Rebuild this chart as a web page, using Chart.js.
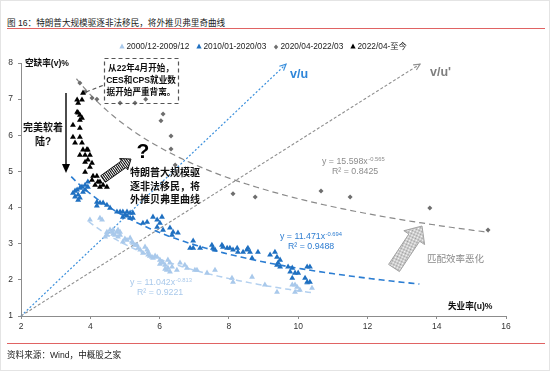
<!DOCTYPE html>
<html>
<head>
<meta charset="utf-8">
<script src="https://cdn.jsdelivr.net/npm/chart.js@4.4.0/dist/chart.umd.min.js"></script>
<style>
html, body { margin: 0; padding: 0; background: #fff; }
#wrap { position: relative; width: 548px; height: 369px; border: 1px solid #e4e4e4; overflow: hidden;
  font-family: "Liberation Sans", "Noto Sans CJK SC", sans-serif; }
#title { position: absolute; left: 6px; top: 15px; font-size: 8.6px; color: #222; white-space: nowrap; }
.rule { position: absolute; left: 6px; right: 4px; height: 0; border-top: 1px solid #e06363; }
#source { position: absolute; left: 6px; top: 347px; font-size: 8.6px; color: #222; white-space: nowrap; }
canvas { position: absolute; left: -1px; top: -1px; }
</style>
</head>
<body>
<div id="wrap">
  <div id="title">图 16：特朗普大规模驱逐非法移民，将外推贝弗里奇曲线</div>
  <div class="rule" style="top:27px"></div>
  <canvas id="beveridge" width="550" height="371"></canvas>
  <div class="rule" style="top:342px"></div>
  <div id="source">资料来源：Wind，中概股之家</div>
</div>
<script>
// series: [unemployment u, vacancy v]
const period0009 = [
  [3.99,3.66],[4.28,3.71],[4.34,3.66],[4.43,3.19],[4.48,3.24],[4.48,3.32],[4.57,3.38],[4.63,3.32],
  [4.66,3.38],[4.66,3.27],[4.71,3.24],[4.77,3.32],[4.80,3.38],[4.80,3.19],[4.86,3.32],[4.86,3.24],
  [4.94,3.05],[5.00,3.13],[5.06,3.10],[5.15,3.16],[5.20,3.05],[5.23,3.02],[5.29,2.96],[5.35,2.96],
  [5.38,2.88],[5.44,2.83],[5.52,2.74],[5.58,2.91],[5.64,2.83],[5.67,2.77],[5.67,2.69],[5.72,2.66],
  [5.78,2.63],[5.81,2.60],[5.87,2.66],[5.93,2.63],[6.01,2.55],[6.01,2.44],[6.07,2.49],[6.10,2.47],
  [6.16,2.41],[6.16,2.30],[6.21,2.27],[6.24,2.55],[6.24,2.33],[6.30,2.47],[6.30,2.22],[6.36,2.36],
  [6.50,2.27],[6.59,2.47],[6.73,2.41],[6.79,2.33],[7.02,2.27],[7.08,2.27],[7.37,2.19],[7.60,2.27],
  [8.09,2.05],[8.12,1.94],[8.67,2.08],[9.04,1.86],[9.39,1.66],[9.83,1.86],[9.91,1.86],[9.97,1.80],
  [10.05,1.72],[9.91,1.66],[10.26,1.91],[10.40,1.77]
];
const period1020 = [
  [3.50,4.40],[3.56,4.46],[3.56,4.30],[3.62,4.49],[3.65,4.21],[3.65,4.35],[3.70,4.54],[3.70,4.27],
  [3.76,4.57],[3.79,4.43],[3.85,4.62],[3.85,4.49],[3.93,4.71],[3.93,4.57],[4.19,4.15],[4.28,4.13],
  [4.37,4.13],[4.19,4.05],[4.48,4.07],[4.57,3.99],[4.77,3.88],[4.86,3.88],[4.94,3.88],[5.06,3.88],
  [5.15,3.85],[5.23,3.85],[4.94,3.74],[5.00,3.80],[5.15,3.71],[5.23,3.71],[5.06,3.77],[5.52,3.57],
  [5.64,3.60],[5.81,3.74],[5.93,3.66],[6.01,3.57],[5.93,3.46],[6.10,3.38],[6.30,3.44],[6.39,3.32],
  [6.36,3.24],[6.53,3.30],[6.07,3.74],[6.88,2.88],[6.97,2.88],[6.97,3.08],[7.17,2.88],[7.51,2.96],
  [7.54,2.88],[7.60,2.83],[7.80,2.96],[7.83,2.91],[7.95,2.88],[8.03,2.88],[8.12,2.83],[8.24,2.88],
  [8.26,2.77],[8.41,2.77],[8.52,2.83],[8.55,2.88],[8.61,2.77],[8.67,2.60],[8.84,2.77],[9.19,2.69],
  [9.33,2.77],[9.39,2.63],[9.48,2.55],[9.42,2.47],[9.39,2.41],[9.48,2.36],[9.71,2.36],[9.83,2.33],
  [9.77,2.22],[9.91,2.19],[10.00,2.19],[9.83,2.05],[10.26,2.36],[10.34,2.36],[10.20,2.05],[10.26,1.94],
  [10.34,1.94]
];
const period2022 = [
  [3.70,7.45],[3.85,7.20],[4.05,7.03],[4.19,7.00],[4.86,6.89],[5.29,6.89],[5.60,7.00],[6.10,6.59],
  [6.04,6.40],[6.33,5.98],[6.33,5.62],[6.45,5.18],[8.12,4.38],[8.76,4.29],[10.66,4.46],[11.50,4.29],
  [13.80,3.99],[15.48,3.38]
];
const periodNow = [
  [3.79,7.17],[3.62,6.98],[3.65,6.89],[3.76,6.98],[3.62,6.64],[3.65,6.62],[3.70,6.56],[3.70,6.42],
  [3.76,6.48],[3.50,6.28],[3.70,6.20],[3.50,5.95],[3.70,5.95],[3.56,5.79],[3.76,5.79],[3.79,5.60],
  [3.90,5.60],[3.93,5.60],[3.70,5.45],[3.85,5.45],[3.99,5.45],[3.85,5.26],[3.93,5.32],[4.05,5.23],
  [3.99,5.12],[3.85,4.98],[4.08,4.87],[4.19,4.87],[4.05,4.76],[4.22,4.71],[4.14,4.62],[4.28,4.71],
  [4.37,4.62],[4.48,4.57],[4.28,4.57]
];
const seriesLabels = ['2000/12-2009/12', '2010/01-2020/03', '2020/04-2022/03', '2022/04-至今'];

// power trendlines y = a * x^b, as printed on the chart
const trendCoef = [[11.042, -0.813], [11.471, -0.694], [15.598, -0.565]];
const trendSpan = [[3.95, 10.45], [3.45, 13.5], [3.6, 15.5]];
const trendR2 = ['0.9221', '0.9488', '0.8425'];

const xMin = 2, xMax = 16, xStep = 2;
const yMin = 1, yMax = 8, yStep = 1;

const FONT = '"Liberation Sans", "Noto Sans CJK SC", sans-serif';
const colLight = '#a9c9eb';
const colDark = '#1f70c1';
const colGray = '#6e6e6e';
const colBlack = '#000000';

const ctx = document.getElementById('beveridge').getContext('2d');

function toXY(arr) { return arr.map(p => ({ x: p[0], y: p[1] })); }

function hatch(color, gap, vertical) {
  const c = document.createElement('canvas');
  c.width = gap; c.height = gap;
  const g = c.getContext('2d');
  g.strokeStyle = color; g.lineWidth = 1;
  g.beginPath();
  if (vertical) { g.moveTo(0.5, 0); g.lineTo(0.5, gap); }
  else { g.moveTo(-1, gap + 1); g.lineTo(gap + 1, -1); g.moveTo(-1, 1); g.lineTo(1, -1); g.moveTo(gap - 1, gap + 1); g.lineTo(gap + 1, gap - 1); }
  g.stroke();
  return ctx.createPattern(c, 'repeat');
}

function blockArrow(g, x0, y0, x1, y1, sw, hw, hl, fill, stroke) {
  const a = Math.atan2(y1 - y0, x1 - x0), len = Math.hypot(x1 - x0, y1 - y0);
  g.save();
  g.translate(x0, y0); g.rotate(a);
  g.beginPath();
  g.moveTo(0, -sw / 2); g.lineTo(len - hl, -sw / 2); g.lineTo(len - hl, -hw / 2); g.lineTo(len, 0);
  g.lineTo(len - hl, hw / 2); g.lineTo(len - hl, sw / 2); g.lineTo(0, sw / 2); g.closePath();
  g.fillStyle = fill; g.fill();
  g.strokeStyle = stroke; g.lineWidth = 0.8; g.setLineDash([]); g.stroke();
  g.restore();
}

function lineArrow(g, x0, y0, x1, y1, color, dash, width) {
  g.save();
  g.strokeStyle = color; g.lineWidth = width; g.setLineDash(dash);
  g.beginPath(); g.moveTo(x0, y0); g.lineTo(x1, y1); g.stroke();
  const a = Math.atan2(y1 - y0, x1 - x0);
  g.setLineDash([]);
  g.beginPath();
  g.moveTo(x1 - 7 * Math.cos(a - 0.45), y1 - 7 * Math.sin(a - 0.45));
  g.lineTo(x1, y1);
  g.lineTo(x1 - 7 * Math.cos(a + 0.45), y1 - 7 * Math.sin(a + 0.45));
  g.stroke();
  g.restore();
}

function txt(g, s, x, y, font, color, align) {
  g.font = font; g.fillStyle = color; g.textAlign = align || 'left'; g.textBaseline = 'middle';
  g.fillText(s, x, y);
}

function tri(g, x, y, r, color) {
  g.fillStyle = color;
  g.beginPath(); g.moveTo(x, y - r); g.lineTo(x + r * 0.87, y + r * 0.6); g.lineTo(x - r * 0.87, y + r * 0.6); g.closePath(); g.fill();
}

const trendPlugin = {
  id: 'trend',
  beforeDatasetsDraw(chart) {
    const g = chart.ctx, xs = chart.scales.x, ys = chart.scales.y;
    const styles = [
      { color: '#b3d0ef', dash: [6, 4], w: 1.5 },
      { color: '#2b7dd2', dash: [6, 4], w: 1.6 },
      { color: '#8a8a8a', dash: [6, 4], w: 1.2 }
    ];
    g.save();
    // v/u reference lines
    lineArrow(g, xs.getPixelForValue(2), ys.getPixelForValue(1), xs.getPixelForValue(9.65), ys.getPixelForValue(7.97), '#3a8fdc', [2, 2], 1.2);
    lineArrow(g, xs.getPixelForValue(2), ys.getPixelForValue(1), xs.getPixelForValue(13.52), ys.getPixelForValue(7.97), '#8f8f8f', [3, 2], 1.1);
    trendCoef.forEach((c, i) => {
      const s = styles[i];
      g.strokeStyle = s.color; g.lineWidth = s.w; g.setLineDash(s.dash);
      g.beginPath();
      const [a, b] = trendSpan[i];
      for (let k = 0; k <= 80; k++) {
        const u = a + (b - a) * k / 80;
        const px = xs.getPixelForValue(u), py = ys.getPixelForValue(c[0] * Math.pow(u, c[1]));
        k ? g.lineTo(px, py) : g.moveTo(px, py);
      }
      g.stroke();
    });
    g.restore();
  }
};

const notesPlugin = {
  id: 'notes',
  afterDatasetsDraw(chart) {
    const g = chart.ctx;
    g.save();
    // legend
    const lx = [122, 199, 276, 353];
    const lc = [colLight, colDark, colGray, colBlack];
    lx.forEach((x, i) => {
      if (i === 2) {
        g.fillStyle = lc[i];
        g.beginPath(); g.moveTo(x, 44.5); g.lineTo(x + 2.2, 47); g.lineTo(x, 49.5); g.lineTo(x - 2.2, 47); g.closePath(); g.fill();
      } else tri(g, x, 46.6, 3, lc[i]);
      txt(g, seriesLabels[i], x + 4.5, 47, '8.3px ' + FONT, '#222');
    });

    // axis titles
    txt(g, '空缺率(v)%', 25, 64, 'bold 8.6px ' + FONT, '#111');
    txt(g, '失业率(u)%', 448, 307, 'bold 8.6px ' + FONT, '#111');

    // dashed note box
    g.strokeStyle = '#555'; g.lineWidth = 1.2; g.setLineDash([4, 3]);
    g.strokeRect(104.5, 58.5, 74, 45);
    g.beginPath(); g.moveTo(86, 92); g.lineTo(104, 85); g.stroke();
    g.setLineDash([]);
    const bf = 'bold 8.6px ' + FONT;
    txt(g, '从22年4月开始，', 141, 69, bf, '#111', 'center');
    txt(g, 'CES和CPS就业数', 141, 81, bf, '#111', 'center');
    txt(g, '据开始严重背离。', 141, 93, bf, '#111', 'center');

    // soft landing arrow
    g.strokeStyle = '#000'; g.lineWidth = 1.4;
    g.beginPath(); g.moveTo(66, 93); g.lineTo(66, 165); g.stroke();
    g.fillStyle = '#000';
    g.beginPath(); g.moveTo(62, 164); g.lineTo(70, 164); g.lineTo(66, 173); g.closePath(); g.fill();
    txt(g, '完美软着', 43, 128, 'bold 10px ' + FONT, '#111', 'center');
    txt(g, '陆?', 43, 142, 'bold 10px ' + FONT, '#111', 'center');

    // question mark and hatched arrow
    txt(g, '?', 143, 152, 'bold 21px ' + FONT, '#000', 'center');
    blockArrow(g, 103, 179, 131, 159, 8, 14, 9, hatch('#000', 2.5, true), '#000');
    const tf = 'bold 10px ' + FONT;
    txt(g, '特朗普大规模驱', 130, 173, tf, '#111');
    txt(g, '逐非法移民，将', 130, 187, tf, '#111');
    txt(g, '外推贝弗里曲线', 130, 200, tf, '#111');

    // v/u labels
    txt(g, 'v/u', 290, 75, 'bold 12.5px ' + FONT, '#2f86d9');
    txt(g, "v/u'", 430, 73, 'bold 12.5px ' + FONT, '#7f7f7f');

    // trend equations
    const eqs = [
      { x: 130, y: 283, rx: 137, c: '#a9c9eb' },
      { x: 280, y: 237, rx: 288, c: '#2e7dd1' },
      { x: 322, y: 162, rx: 332, c: '#8c8c8c' }
    ];
    eqs.forEach((e, i) => {
      const base = 'y = ' + trendCoef[i][0].toFixed(3) + 'x';
      g.font = '8.8px ' + FONT;
      const w = g.measureText(base).width;
      txt(g, base, e.x, e.y, '8.8px ' + FONT, e.c);
      txt(g, String(trendCoef[i][1]), e.x + w + 0.5, e.y - 3, '5.8px ' + FONT, e.c);
      txt(g, 'R² = ' + trendR2[i], e.rx, e.y + 9.5, '8.8px ' + FONT, e.c);
    });

    // matching efficiency arrow
    blockArrow(g, 394, 268, 422, 226, 13, 25, 14, hatch('#9a9a9a', 2, false), '#9a9a9a');
    txt(g, '匹配效率恶化', 427, 259, '9.5px ' + FONT, '#8a8a8a');
    g.restore();
  }
};

const pointBase = { showLine: false, pointBorderWidth: 0, pointHoverRadius: 3 };

new Chart(ctx, {
  type: 'scatter',
  data: {
    datasets: [
      Object.assign({ label: seriesLabels[3], data: toXY(periodNow), pointStyle: 'triangle', pointRadius: 3.4, backgroundColor: colBlack, borderColor: colBlack }, pointBase),
      Object.assign({ label: seriesLabels[2], data: toXY(period2022), pointStyle: 'rectRot', pointRadius: 2.5, backgroundColor: colGray, borderColor: colGray }, pointBase),
      Object.assign({ label: seriesLabels[1], data: toXY(period1020), pointStyle: 'triangle', pointRadius: 3.4, backgroundColor: colDark, borderColor: colDark }, pointBase),
      Object.assign({ label: seriesLabels[0], data: toXY(period0009), pointStyle: 'triangle', pointRadius: 3.4, backgroundColor: colLight, borderColor: colLight }, pointBase)
    ]
  },
  options: {
    responsive: false,
    animation: false,
    layout: { padding: { left: 0, top: 63, right: 44, bottom: 0 } },
    plugins: { legend: { display: false }, tooltip: { enabled: false } },
    scales: {
      x: {
        type: 'linear', min: xMin, max: xMax,
        afterFit: s => { s.height = 55; },
        ticks: { stepSize: xStep, font: { size: 8.5, family: FONT }, color: '#333', padding: 3 },
        grid: { display: true, drawOnChartArea: false, drawTicks: true, tickLength: 3, color: '#8c8c8c' },
        border: { display: true, color: '#8c8c8c', width: 1 }
      },
      y: {
        type: 'linear', min: yMin, max: yMax,
        afterFit: s => { s.width = 21; },
        ticks: { stepSize: yStep, font: { size: 8.5, family: FONT }, color: '#333', padding: 5 },
        grid: { display: true, drawOnChartArea: false, drawTicks: true, tickLength: 3, color: '#8c8c8c' },
        border: { display: true, color: '#8c8c8c', width: 1 }
      }
    }
  },
  plugins: [trendPlugin, notesPlugin]
});
</script>
</body>
</html>
